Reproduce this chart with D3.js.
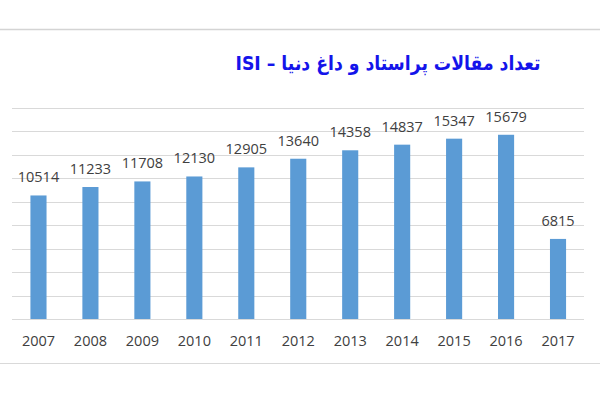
<!DOCTYPE html>
<html>
<head>
<meta charset="utf-8">
<script src="https://cdn.jsdelivr.net/npm/d3@7"></script>
<style>
  body { margin: 0; background: #fff; }
  svg { display: block; }
</style>
</head>
<body>
<div id="chart"></div>
<script>
// chart data
const years = ['2007', '2008', '2009', '2010', '2011', '2012', '2013', '2014', '2015', '2016', '2017'];
const articles = [10514, 11233, 11708, 12130, 12905, 13640, 14358, 14837, 15347, 15679, 6815];
const gridTicks = [0, 2000, 4000, 6000, 8000, 10000, 12000, 14000, 16000, 18000];
const title = 'تعداد مقالات پراستاد و داغ دنیا – ISI';

const width = 600;
const height = 400;

const svg = d3.select('#chart')
  .append('svg')
  .attr('width', width)
  .attr('height', height);

// frame lines at top and bottom of the picture
svg.append('line')
  .attr('x1', 0).attr('x2', width)
  .attr('y1', 29.5).attr('y2', 29.5)
  .attr('stroke', '#d4d4d4')
  .attr('stroke-width', 1.5);
svg.append('line')
  .attr('x1', 0).attr('x2', width)
  .attr('y1', 363.5).attr('y2', 363.5)
  .attr('stroke', '#d9d9d9')
  .attr('stroke-width', 1);

// title
svg.append('text')
  .attr('x', 388)
  .attr('y', 70)
  .attr('text-anchor', 'middle')
  .attr('direction', 'rtl')
  .attr('font-family', 'DejaVu Sans, Noto Sans, sans-serif')
  .attr('font-weight', 'bold')
  .attr('font-size', '20px')
  .attr('textLength', 305)
  .attr('lengthAdjust', 'spacingAndGlyphs')
  .attr('fill', '#1414ea')
  .text(title);

// scales
const x = d3.scaleBand()
  .domain(years)
  .range([12.5, 584])
  .paddingInner(0.69)
  .paddingOuter(0.345);

const y = d3.scaleLinear()
  .domain([0, 18000])
  .range([319, 107.5]);

// horizontal grid lines
svg.append('g')
  .selectAll('line')
  .data(gridTicks)
  .enter()
  .append('line')
  .attr('x1', 12)
  .attr('x2', 584)
  .attr('y1', d => Math.round(y(d)) + 0.5)
  .attr('y2', d => Math.round(y(d)) + 0.5)
  .attr('stroke', '#d9d9d9')
  .attr('stroke-width', 1);

// bars
svg.append('g')
  .selectAll('rect')
  .data(articles)
  .enter()
  .append('rect')
  .attr('x', (d, i) => x(years[i]))
  .attr('y', d => y(d))
  .attr('width', x.bandwidth())
  .attr('height', d => y(0) - y(d))
  .attr('fill', '#5b9bd5');

// value labels
svg.append('g')
  .selectAll('text')
  .data(articles)
  .enter()
  .append('text')
  .attr('x', (d, i) => x(years[i]) + x.bandwidth() / 2)
  .attr('y', d => y(d) - 13)
  .attr('text-anchor', 'middle')
  .attr('font-family', 'Open Sans, Noto Sans, sans-serif')
  .attr('font-size', '14.5px')
  .attr('fill', '#404040')
  .text(d => d);

// x axis labels
const xAxis = d3.axisBottom(x).tickSize(0).tickPadding(0);
const axisG = svg.append('g')
  .attr('transform', 'translate(0, 346)')
  .call(xAxis);
axisG.select('.domain').remove();
axisG.selectAll('text')
  .attr('dy', 0)
  .attr('font-family', 'Open Sans, Noto Sans, sans-serif')
  .attr('font-size', '14.5px')
  .attr('fill', '#404040');
</script>
</body>
</html>
